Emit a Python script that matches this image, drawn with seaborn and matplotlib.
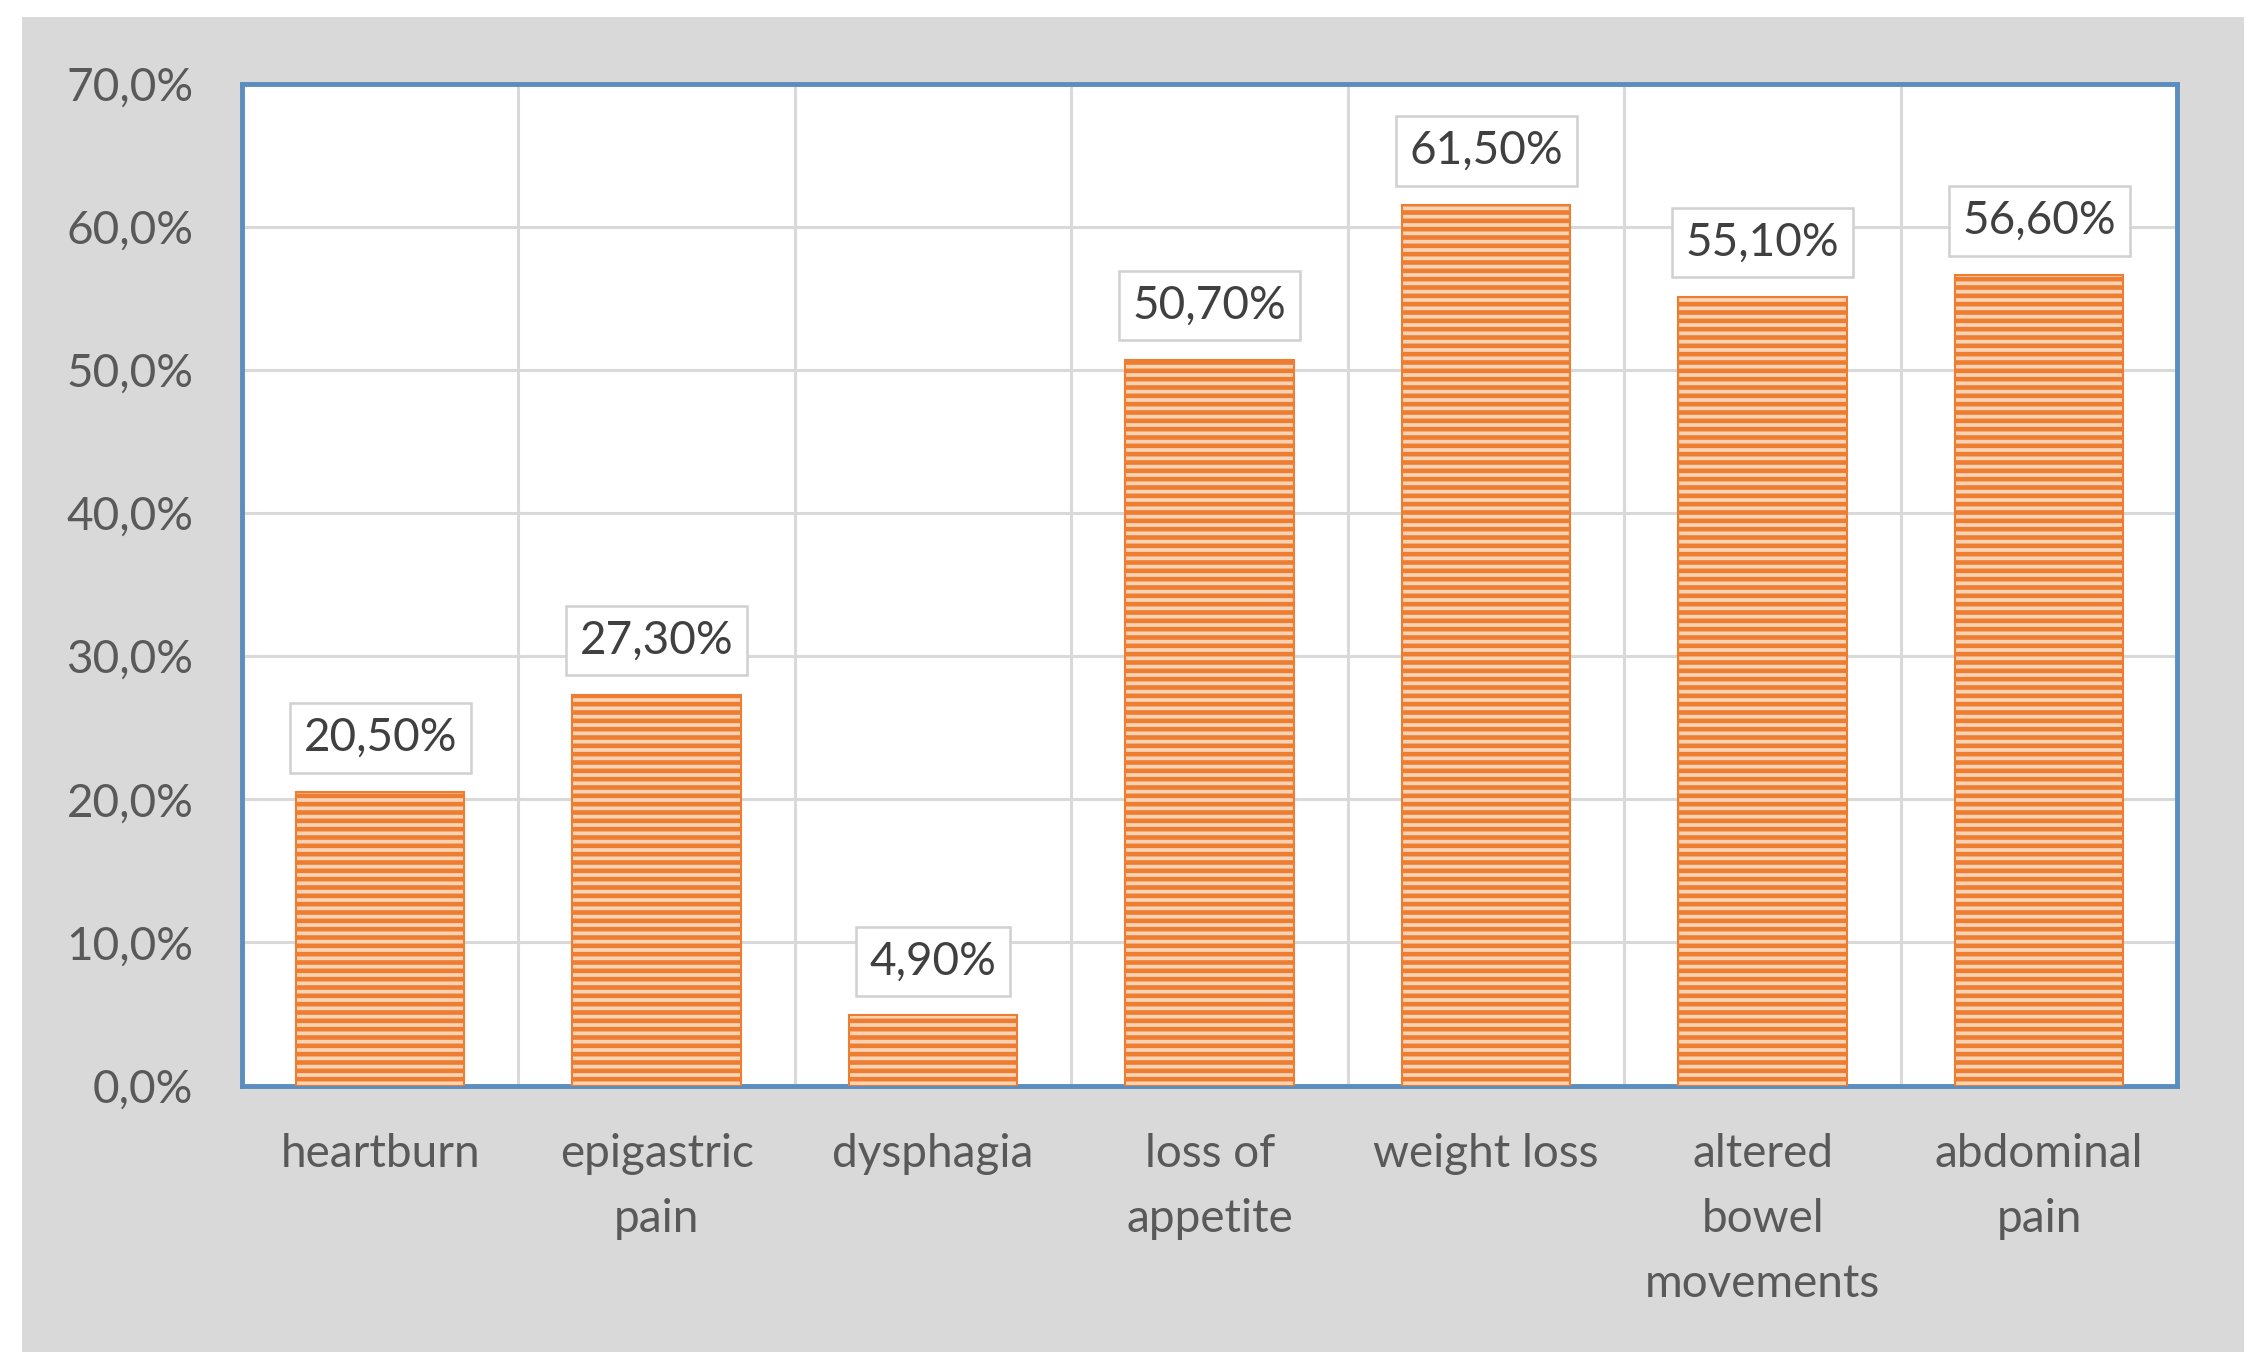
import matplotlib
matplotlib.use("Agg")
import matplotlib.pyplot as plt
import matplotlib.patches as mpatches
import seaborn as sns

# symptom frequencies (%)
categories = ["heartburn", "epigastric\npain", "dysphagia", "loss of\nappetite",
              "weight loss", "altered\nbowel\nmovements", "abdominal\npain"]
values = [20.5, 27.3, 4.9, 50.7, 61.5, 55.1, 56.6]
yticks = [0, 10, 20, 30, 40, 50, 60, 70]

sns.set_style("white")
plt.rcParams['font.family'] = ['Lato', 'DejaVu Sans']
plt.rcParams['hatch.linewidth'] = 3.3
plt.rcParams['hatch.color'] = '#ED7D31'

fig = plt.figure(figsize=(22.61, 13.69), dpi=100, facecolor='white')
# grey chart area
fig.patches.append(mpatches.Rectangle((0.0097, 0.0124), 0.983, 0.975,
                                      transform=fig.transFigure, facecolor='#D9D9D9',
                                      edgecolor='none', zorder=-10))
ax = fig.add_axes([0.107, 0.207, 0.856, 0.732])
ax.set_facecolor('white')

sns.barplot(x=categories, y=values, ax=ax, color='#FAD3B5', width=0.61,
            saturation=1, zorder=3)
for p in ax.patches:
    p.set_hatch('--')
    p.set_edgecolor('#ED7D31')
    p.set_linewidth(1.5)

ax.set_ylim(0, 70)
ax.set_xlim(-0.5, len(categories) - 0.5)
ax.set_yticks(yticks)
ax.set_yticklabels([f"{t:.1f}%".replace('.', ',') for t in yticks])

# grid: horizontal at ticks, vertical between categories
for t in yticks[1:-1]:
    ax.axhline(t, color='#D9D9D9', lw=2.2, zorder=1)
for i in range(len(categories) - 1):
    ax.axvline(i + 0.5, color='#D9D9D9', lw=2.2, zorder=1)

for i, v in enumerate(values):
    ax.annotate(f"{v:.2f}%".replace('.', ','), xy=(i, v), xytext=(0, 39),
                textcoords='offset points', ha='center', va='center',
                fontsize=33, color='#404040', zorder=5,
                bbox=dict(boxstyle='square,pad=0.3', facecolor='white',
                          edgecolor='#D0D0D0', linewidth=1.8))

for s in ax.spines.values():
    s.set_visible(True)
    s.set_color('#5B8DBE')
    s.set_linewidth(3.5)

ax.tick_params(axis='y', length=0, pad=35, labelsize=33, labelcolor='#595959')
ax.tick_params(axis='x', length=0, pad=34, labelsize=33, labelcolor='#595959')
for lab in ax.get_xticklabels():
    lab.set_linespacing(1.68)
    lab.set_multialignment('center')
ax.set_xlabel('')
ax.set_ylabel('')

fig.savefig("out.png", dpi=100, facecolor='white')
